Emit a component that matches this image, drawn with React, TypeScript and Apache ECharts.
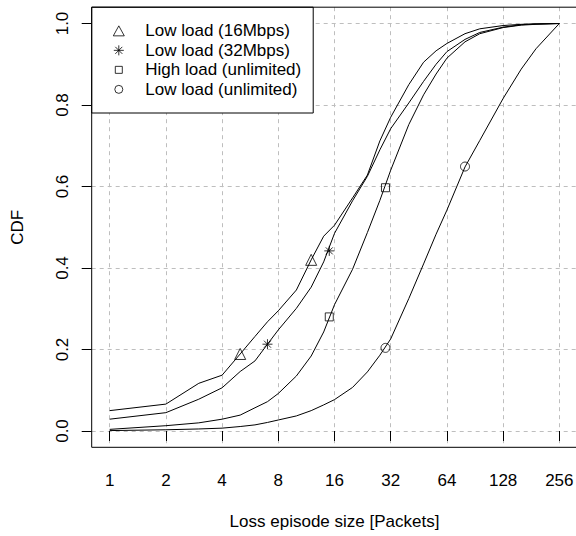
import React, { useEffect, useRef } from 'react';
import * as echarts from 'echarts';

// Loss episode sizes (packets) at which the CDFs were read
const sizes = [1, 2, 3, 4, 5, 6, 7, 8, 10, 12, 14, 16, 20, 24, 28, 32, 40, 48, 56, 64, 80, 96, 128, 160, 192, 256];

const lowLoad16 = [0.050, 0.066, 0.117, 0.137, 0.189, 0.232, 0.268, 0.295, 0.346, 0.420, 0.478, 0.505, 0.572, 0.628, 0.712, 0.770, 0.850, 0.905, 0.933, 0.951, 0.975, 0.987, 0.995, 0.998, 0.999, 1.0];
const lowLoad32 = [0.029, 0.045, 0.078, 0.106, 0.146, 0.172, 0.213, 0.248, 0.301, 0.353, 0.415, 0.485, 0.565, 0.625, 0.690, 0.742, 0.805, 0.858, 0.900, 0.931, 0.961, 0.978, 0.991, 0.997, 0.999, 1.0];
const highLoad = [0.004, 0.013, 0.020, 0.029, 0.039, 0.057, 0.072, 0.092, 0.135, 0.184, 0.243, 0.310, 0.397, 0.487, 0.566, 0.640, 0.752, 0.825, 0.876, 0.915, 0.955, 0.975, 0.990, 0.996, 0.998, 1.0];
const lowUnlimited = [0.001, 0.003, 0.005, 0.007, 0.011, 0.015, 0.021, 0.027, 0.037, 0.050, 0.064, 0.077, 0.107, 0.145, 0.186, 0.226, 0.325, 0.410, 0.483, 0.542, 0.648, 0.713, 0.816, 0.888, 0.938, 1.0];

// Marker points drawn on each curve
const markLowLoad16 = [[5, 0.189], [12, 0.42]];
const markLowLoad32 = [[7, 0.213], [15, 0.442]];
const markHighLoad = [[15, 0.28], [30, 0.597]];
const markLowUnlimited = [[30, 0.204], [80, 0.649]];

const legendNames = ['Low load (16Mbps)', 'Low load (32Mbps)', 'High load (unlimited)', 'Low load (unlimited)'];

const xTicks = [1, 2, 4, 8, 16, 32, 64, 128, 256];
const yTicks = [0, 0.2, 0.4, 0.6, 0.8, 1.0];

const xTitle = 'Loss episode size [Packets]';
const yTitle = 'CDF';

const FONT = '"Liberation Sans", Arial, Helvetica, sans-serif';
const STAR = 'path://M5,0L5,10M0,5L10,5M1.5,1.5L8.5,8.5M1.5,8.5L8.5,1.5';

// Legend icons: drawn inside a 43x11 box (zero-length corner anchors fix the box)
const BOX = 'M0,0L0,0M43,11L43,11';
const LEG_ICONS = [
  'path://' + BOX + 'M16,10.5L27,10.5L21.5,0.5Z',
  'path://' + BOX + 'M21.5,0.5L21.5,10.5M16.5,5.5L26.5,5.5M18,2L25,9M18,9L25,2',
  'path://' + BOX + 'M18,2L25,2L25,9L18,9Z',
  'path://' + BOX + 'M17.5,5.5A4,4 0 1,0 25.5,5.5A4,4 0 1,0 17.5,5.5Z',
];

export default function App() {
  const ref = useRef<HTMLDivElement>(null);

  useEffect(() => {
    const chart = echarts.init(ref.current!, null, { renderer: 'svg' });
    const L = 91.7, T = 7.2, W = 485.6, H = 440.1;
    const hollow = { color: 'rgba(0,0,0,0)', borderColor: '#000', borderWidth: 1 };

    const curves = [lowLoad16, lowLoad32, highLoad, lowUnlimited];
    const marks = [markLowLoad16, markLowLoad32, markHighLoad, markLowUnlimited];
    const symbols = ['triangle', STAR, 'rect', 'circle'];
    const symSizes = [11, 10, 8, 9];

    const lineSeries = curves.map((vals, k) => ({
      type: 'line',
      name: legendNames[k] + ' line',
      data: sizes.map((s, i) => [s, vals[i]]),
      showSymbol: false,
      symbol: 'none',
      silent: true,
      lineStyle: { color: '#000', width: 1 },
      z: 2,
    }));
    const markSeries = marks.map((pts, k) => ({
      type: 'scatter',
      name: legendNames[k],
      data: pts,
      symbol: symbols[k],
      symbolSize: symSizes[k],
      itemStyle: hollow,
      silent: true,
      z: 3,
    }));

    const txt = { fontFamily: FONT, fontSize: 17, color: '#000' };
    const grid = { color: '#BEBEBE', type: [4, 4] as any, width: 1 };

    chart.setOption({
      animation: false,
      backgroundColor: '#fff',
      textStyle: { fontFamily: FONT },
      grid: { left: L, top: T, width: W, height: H, outerBoundsMode: 'none', containLabel: false },
      xAxis: {
        type: 'log',
        logBase: 2,
        min: Math.pow(2, -0.32),
        max: Math.pow(2, 8.32),
        axisLine: { show: false },
        axisTick: { show: true, customValues: xTicks, length: 10, inside: false, lineStyle: { color: '#000', width: 1 } },
        axisLabel: { customValues: xTicks, formatter: (v: number) => String(Math.round(v)), margin: 25, ...txt },
        splitLine: { show: true, lineStyle: grid },
        minorTick: { show: false },
        minorSplitLine: { show: false },
        name: xTitle,
        nameLocation: 'middle',
        nameGap: 66,
        nameTextStyle: txt,
      },
      yAxis: {
        type: 'value',
        min: -0.04,
        max: 1.04,
        axisLine: { show: false },
        axisTick: { show: true, customValues: yTicks, length: 10, inside: false, lineStyle: { color: '#000', width: 1 } },
        axisLabel: { customValues: yTicks, formatter: (v: number) => v.toFixed(1), rotate: 90, margin: 21, ...txt },
        splitLine: { show: true, lineStyle: grid },
        name: yTitle,
        nameLocation: 'middle',
        nameRotate: 90,
        nameGap: 66,
        nameTextStyle: txt,
      },
      legend: {
        data: legendNames.map((n, k) => ({ name: n, icon: LEG_ICONS[k], itemStyle: hollow })),
        orient: 'vertical',
        left: L,
        top: T,
        padding: [13.9, 12, 13.9, 5.1],
        itemWidth: 43,
        itemHeight: 11,
        itemGap: 0,
        symbolKeepAspect: true,
        backgroundColor: '#fff',
        borderColor: '#000',
        borderWidth: 1,
        borderRadius: 0,
        selectedMode: false,
        textStyle: { ...txt, lineHeight: 19.5 },
      },
      graphic: [
        {
          type: 'rect',
          silent: true,
          z: 100,
          shape: { x: L, y: T, width: W, height: H },
          style: { fill: 'none', stroke: '#000', lineWidth: 1 },
        },
      ],
      series: [...lineSeries, ...markSeries],
    });

    return () => chart.dispose();
  }, []);

  return (
    <div
      ref={ref}
      style={{ position: 'fixed', left: 0, top: 0, width: 576, height: 536, background: '#fff' }}
    />
  );
}
